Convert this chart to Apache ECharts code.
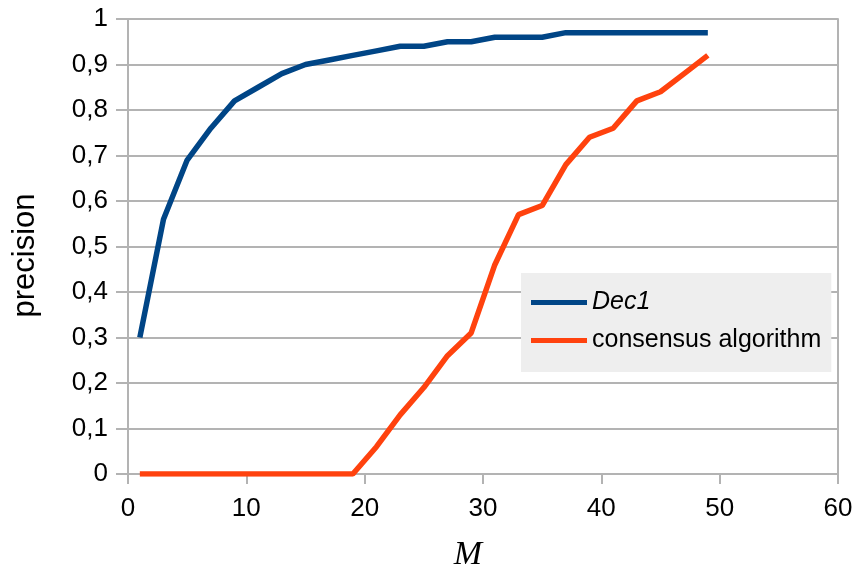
<!DOCTYPE html>
<html>
<head>
<meta charset="utf-8">
<script src="https://cdn.jsdelivr.net/npm/echarts@6/dist/echarts.min.js"></script>
<style>
html,body{margin:0;padding:0;background:#fff;}
#c{width:859px;height:567px;}
</style>
</head>
<body>
<div id="c"></div>
<script>
const mValues = [1,3,5,7,9,11,13,15,17,19,21,23,25,27,29,31,33,35,37,39,41,43,45,47,49];
const dec1 = [0.30,0.56,0.69,0.76,0.82,0.85,0.88,0.90,0.91,0.92,0.93,0.94,0.94,0.95,0.95,0.96,0.96,0.96,0.97,0.97,0.97,0.97,0.97,0.97,0.97];
const consensus = [0,0,0,0,0,0,0,0,0,0,0.06,0.13,0.19,0.26,0.31,0.46,0.57,0.59,0.68,0.74,0.76,0.82,0.84,0.88,0.92];
const seriesNames = ['Dec1','consensus algorithm'];

const chart = echarts.init(document.getElementById('c'));
const gridColor = '#b3b3b3';
const font = 'Liberation Sans';
chart.setOption({
  animation: false,
  backgroundColor: '#fff',
  grid: {left:128, right:21, top:19, bottom:93, containLabel:false, outerBoundsMode:'none'},
  legend: {
    left: 521, top: 273,
    orient: 'vertical',
    backgroundColor: '#eeeeee',
    padding: [17, 10, 19, 10],
    itemGap: 13,
    itemWidth: 56, itemHeight: 5,
    icon: 'rect',
    data: seriesNames,
    formatter: n => n === 'Dec1' ? '{i|' + n + '}' : n,
    textStyle: {fontFamily: font, fontSize: 25, color:'#000', lineHeight: 24,
      rich: {i: {fontStyle:'italic', fontFamily: font, fontSize: 25, color:'#000'}}}
  },
  xAxis: {
    type: 'value', min: 0, max: 60, interval: 10,
    name: 'M', nameLocation: 'middle', nameGap: 64,
    nameTextStyle: {fontFamily:'Liberation Serif', fontStyle:'italic', fontSize: 34, color:'#000', padding:[0,30,0,0]},
    axisLine: {show:true, onZero:false, lineStyle:{color:gridColor, width:2}},
    axisTick: {show:true, length:10, lineStyle:{color:gridColor, width:2}},
    axisLabel: {fontFamily: font, fontSize: 26, color:'#000', margin: 22},
    splitLine: {show:false}
  },
  yAxis: [{
    type: 'value', min: 0, max: 1, interval: 0.1,
    name: 'precision', nameLocation: 'middle', nameGap: 87, nameRotate: 90,
    nameTextStyle: {fontFamily: font, fontSize: 31, color:'#000', padding:[0,18,0,0]},
    axisLine: {show:true, lineStyle:{color:gridColor, width:2}},
    axisTick: {show:true, length:12, lineStyle:{color:gridColor, width:2}},
    axisLabel: {fontFamily: font, fontSize: 26, color:'#000', margin: 20,
      formatter: v => String(Math.round(v*10)/10).replace('.', ',')},
    splitLine: {show:true, lineStyle:{color:gridColor, width:2}}
  },{
    type: 'value', min: 0, max: 1, interval: 0.1, position: 'right',
    axisLine: {show:true, lineStyle:{color:gridColor, width:2}},
    axisTick: {show:false}, axisLabel: {show:false}, splitLine: {show:false}
  }],
  series: [
    {name: seriesNames[0], type:'line', data: mValues.map((m,i)=>[m, dec1[i]]),
     showSymbol:false, symbol:'none', lineStyle:{color:'#004586', width:5.5}, itemStyle:{color:'#004586'}},
    {name: seriesNames[1], type:'line', data: mValues.map((m,i)=>[m, consensus[i]]),
     showSymbol:false, symbol:'none', lineStyle:{color:'#ff420e', width:5.5}, itemStyle:{color:'#ff420e'}}
  ]
});
</script>
</body>
</html>
